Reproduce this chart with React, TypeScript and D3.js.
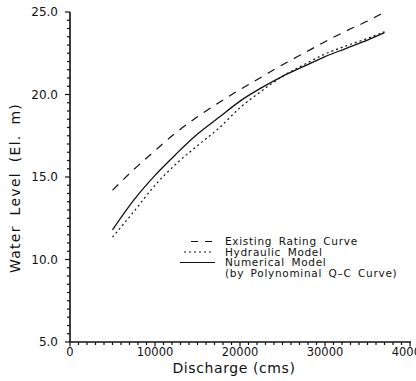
import React from 'react';
import * as d3 from 'd3';

// discharge in cms, water level in El. m
const discharge = [5000, 7500, 10000, 12500, 15000, 17500, 20000, 22500, 25000, 27500, 30000, 32500, 35000, 37000];
const existingRating = [14.2, 15.45, 16.6, 17.7, 18.65, 19.5, 20.3, 21.05, 21.8, 22.5, 23.2, 23.85, 24.45, 25.0];
const hydraulicModel = [11.35, 12.9, 14.5, 15.8, 16.9, 17.95, 19.2, 20.2, 21.1, 21.8, 22.45, 22.95, 23.4, 23.8];
const numericalModel = [11.8, 13.6, 15.1, 16.4, 17.6, 18.6, 19.6, 20.4, 21.1, 21.7, 22.3, 22.8, 23.3, 23.75];

const xTicks = [0, 10000, 20000, 30000, 40000];
const yTicks = [5, 10, 15, 20, 25];

const legendLabels = ['Existing Rating Curve', 'Hydraulic Model', 'Numerical Model', '(by Polynominal Q–C Curve)'];

const FONT = '"DejaVu Sans", sans-serif';

const App = () => {
    const svgRef = React.useRef<SVGSVGElement>(null);

    React.useEffect(() => {
        const svg = d3.select(svgRef.current);
        svg.selectAll('*').remove();

        const x = d3.scaleLinear().domain([0, 40000]).range([70, 410]);
        const y = d3.scaleLinear().domain([5, 25]).range([342, 12]);

        const g = svg.append('g');

        // minor ticks (outside)
        const xMinor = d3.range(0, 40001, 1000);
        g.selectAll('.xminor').data(xMinor).join('line')
            .attr('x1', d => x(d)).attr('x2', d => x(d))
            .attr('y1', y(5)).attr('y2', d => y(5) + (d % 10000 === 0 ? 4.5 : 3))
            .attr('stroke', '#111').attr('stroke-width', 1.2);
        const yMinor = d3.range(5, 25.01, 0.5);
        g.selectAll('.yminor').data(yMinor).join('line')
            .attr('y1', d => y(d)).attr('y2', d => y(d))
            .attr('x1', x(0)).attr('x2', d => x(0) - (d % 5 === 0 ? 5 : 3))
            .attr('stroke', '#111').attr('stroke-width', 1.2);

        // axis lines
        g.append('line')
            .attr('x1', x(0)).attr('x2', x(40000) + 1).attr('y1', y(5)).attr('y2', y(5))
            .attr('stroke', '#111').attr('stroke-width', 1.6);
        g.append('line')
            .attr('x1', x(0)).attr('x2', x(0)).attr('y1', y(5)).attr('y2', y(25))
            .attr('stroke', '#111').attr('stroke-width', 1.6);

        // tick labels
        g.selectAll('.xlab').data(xTicks).join('text')
            .attr('x', d => x(d)).attr('y', y(5) + 14)
            .attr('text-anchor', 'middle')
            .attr('font-family', FONT).attr('font-size', 11.5)
            .attr('fill', '#111')
            .text(d => d);
        g.selectAll('.ylab').data(yTicks).join('text')
            .attr('x', x(0) - 12).attr('y', d => y(d) + 4)
            .attr('text-anchor', 'end')
            .attr('font-family', FONT).attr('font-size', 12)
            .attr('fill', '#111')
            .text(d => d.toFixed(1));

        // axis titles
        g.append('text')
            .attr('x', 234).attr('y', 373)
            .attr('text-anchor', 'middle')
            .attr('font-family', FONT).attr('font-size', 14)
            .attr('letter-spacing', 0.6)
            .attr('fill', '#111')
            .text('Discharge (cms)');
        g.append('text')
            .attr('transform', `translate(20,188) rotate(-90)`)
            .attr('text-anchor', 'middle')
            .attr('font-family', FONT).attr('font-size', 14)
            .attr('letter-spacing', 1.3)
            .attr('word-spacing', 4)
            .attr('fill', '#111')
            .text('Water Level (El. m)');

        // curves
        const series = [
            {values: existingRating, dash: '8,7', width: 1.2},
            {values: hydraulicModel, dash: '2,3', width: 1.2},
            {values: numericalModel, dash: null, width: 1.3},
        ];
        const line = d3.line<number>()
            .x((_, i) => x(discharge[i]))
            .y(d => y(d))
            .curve(d3.curveMonotoneX);
        series.forEach(s => {
            g.append('path')
                .attr('d', line(s.values))
                .attr('fill', 'none')
                .attr('stroke', '#111')
                .attr('stroke-width', s.width)
                .attr('stroke-dasharray', s.dash);
        });

        // legend
        const lg = g.append('g');
        const rowY = [241.5, 252, 262.5, 273];
        const samples = [
            {x1: 191, x2: 214, dash: '7,7'},
            {x1: 184, x2: 214, dash: '2,3'},
            {x1: 180, x2: 215, dash: null},
        ];
        samples.forEach((s, i) => {
            lg.append('line')
                .attr('x1', s.x1).attr('x2', s.x2)
                .attr('y1', rowY[i]).attr('y2', rowY[i])
                .attr('stroke', '#111').attr('stroke-width', 1.2)
                .attr('stroke-dasharray', s.dash);
        });
        lg.selectAll('.legtext').data(legendLabels).join('text')
            .attr('x', 225).attr('y', (_, i) => rowY[i] + 3.5)
            .attr('font-family', FONT).attr('font-size', 10.5)
            .attr('letter-spacing', 0.7)
            .attr('word-spacing', 2.5)
            .attr('fill', '#111')
            .text(d => d);
    }, []);

    return (
        <svg ref={svgRef} width={416} height={381}
            style={{position: 'absolute', left: 0, top: 0, background: '#fff'}}></svg>
    );
};

export default App;
